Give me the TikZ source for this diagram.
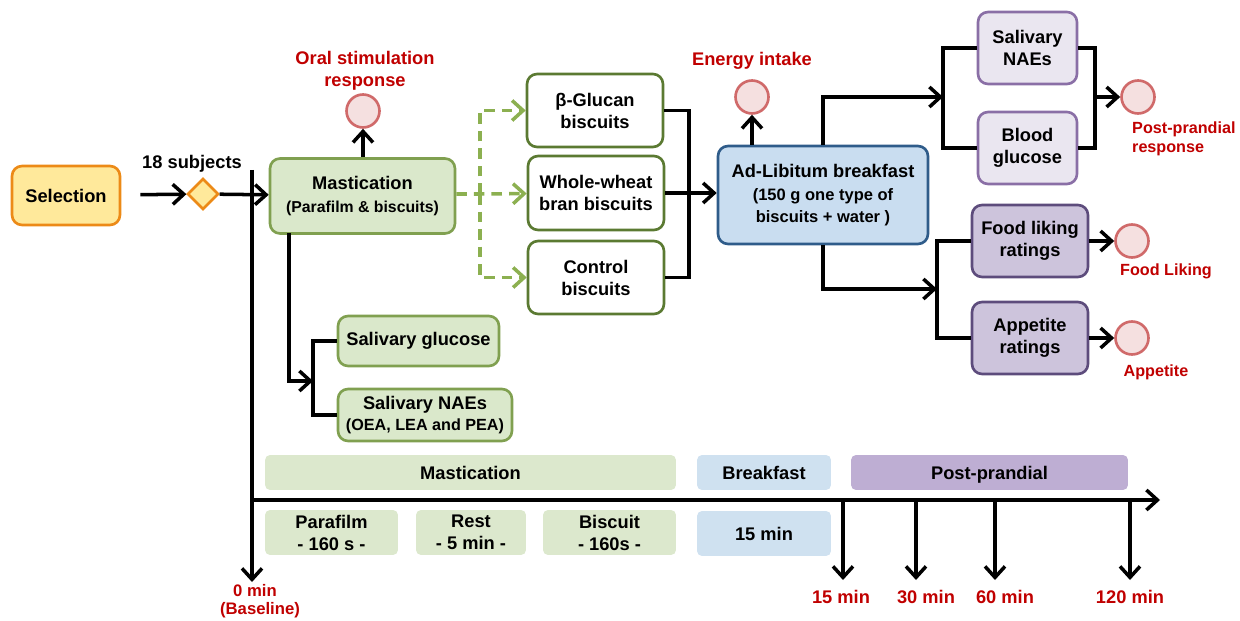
\documentclass[tikz,border=0pt]{standalone}
\usepackage{fontspec}
\setmainfont{Liberation Sans}
\usetikzlibrary{arrows.meta,shapes.geometric}

\definecolor{selfill}{HTML}{FFE99B}
\definecolor{selline}{HTML}{EC8A17}
\definecolor{mastfill}{HTML}{DAE8CB}
\definecolor{mastline}{HTML}{80A050}
\definecolor{dashgreen}{HTML}{8CB050}
\definecolor{biscline}{HTML}{5B7A32}
\definecolor{bfastfill}{HTML}{C9DDF0}
\definecolor{bfastline}{HTML}{2F5C8A}
\definecolor{ppfill}{HTML}{EAE6F0}
\definecolor{ppline}{HTML}{8A6FA6}
\definecolor{ratefill}{HTML}{CDC4DC}
\definecolor{rateline}{HTML}{5D4C7C}
\definecolor{circfill}{HTML}{F5E0E0}
\definecolor{circline}{HTML}{D06A6A}
\definecolor{darkred}{HTML}{C00000}
\definecolor{mastbar}{HTML}{DCE8CD}
\definecolor{bfastbar}{HTML}{CFE1F0}
\definecolor{ppbar}{HTML}{BEAED3}

\tikzset{
  box/.style={draw,rounded corners=0.2cm,line width=1.5pt,align=center,inner sep=0pt},
  resp/.style={circle,draw=circline,fill=circfill,line width=1.5pt,minimum size=0.66cm,inner sep=0pt},
  lab/.style={text=darkred,align=center},
  smalllab/.style={text=darkred,align=left,font=\bfseries\fontsize{9.2}{11}\selectfont},
  bar/.style={rounded corners=0.1cm,inner sep=0pt,align=center},
  onebar/.style={bar,text height=0.95em,text depth=0.12em},
  timelab/.style={text=darkred,align=center},
  conn/.style={line width=2pt},
  dashconn/.style={line width=2pt,draw=dashgreen,dash pattern=on 6pt off 4pt},
}

\begin{document}
\begin{tikzpicture}[x=0.02cm,y=-0.02cm,font=\bfseries\fontsize{10.4}{12.5}\selectfont,
  >={Straight Barb[length=2.2mm,width=4mm]}]
\useasboundingbox (0,0) rectangle (1240,621);

% selection and mastication
\node[box,draw=selline,fill=selfill,minimum width=2.16cm,minimum height=1.18cm] (sel) at (66,195.5) {Selection};
\node[diamond,draw=selline,fill=selfill,line width=1.5pt,minimum size=0.62cm,inner sep=0pt] (split) at (203,194) {};
\node (subj) at (192,164) {18 subjects};
\node[box,draw=mastline,fill=mastfill,minimum width=3.7cm,minimum height=1.5cm] (mast) at (362.5,196)
  {Mastication\\[1pt]\fontsize{9}{11}\selectfont(Parafilm \& biscuits)};
\node[resp] (oral) at (363,111) {};
\node[lab] (oraltxt) at (365,71) {Oral stimulation\\response};

% biscuits
\node[box,draw=biscline,fill=white,minimum width=2.72cm,minimum height=1.46cm] (bglu) at (595,110.5) {β-Glucan\\biscuits};
\node[box,draw=biscline,fill=white,minimum width=2.72cm,minimum height=1.48cm] (bww) at (596,193) {Whole-wheat\\bran biscuits};
\node[box,draw=biscline,fill=white,minimum width=2.72cm,minimum height=1.46cm] (bcon) at (596,277.5) {Control\\biscuits};

% breakfast
\node[box,draw=bfastline,fill=bfastfill,minimum width=4.2cm,minimum height=1.96cm] (adlib) at (823,195)
  {Ad-Libitum breakfast\\[1pt]\fontsize{9.4}{10.5}\selectfont(150 g one type of\\\fontsize{9.4}{10.5}\selectfont biscuits + water )};
\node[resp] (energy) at (752,97) {};
\node[lab] (energytxt) at (752,61) {Energy intake};

% post-prandial measures
\node[box,draw=ppline,fill=ppfill,minimum width=1.98cm,minimum height=1.44cm] (snae) at (1027.5,48) {Salivary\\NAEs};
\node[box,draw=ppline,fill=ppfill,minimum width=1.98cm,minimum height=1.44cm] (bglc) at (1027.5,148) {Blood\\glucose};
\node[resp] (post) at (1138,97) {};
\node[smalllab,anchor=west] (posttxt) at (1126,139) {Post-prandial\\response};
\node[box,draw=rateline,fill=ratefill,minimum width=2.32cm,minimum height=1.44cm] (fl) at (1030,241) {Food liking\\ratings};
\node[box,draw=rateline,fill=ratefill,minimum width=2.32cm,minimum height=1.44cm] (app) at (1030,338) {Appetite\\ratings};
\node[resp] (flc) at (1132,241) {};
\node[resp] (appc) at (1132,338) {};
\node[smalllab] (fltxt) at (1166,271) {Food Liking};
\node[smalllab] (apptxt) at (1156,372) {Appetite};

% salivary samples
\node[box,draw=mastline,fill=mastfill,minimum width=3.22cm,minimum height=1.0cm] (sglu) at (418.5,341) {Salivary glucose};
\node[box,draw=mastline,fill=mastfill,minimum width=3.48cm,minimum height=1.04cm] (snae2) at (425,415)
  {Salivary NAEs\\[-1pt]\fontsize{9.2}{11}\selectfont(OEA, LEA and PEA)};

% junctions
\coordinate (dj) at (480,194);
\coordinate (mj) at (689,193);
\coordinate (uj) at (943,97);
\coordinate (rj) at (1095,97);
\coordinate (lj) at (937,289);
\coordinate (mdown) at (289,233);
\coordinate (sj) at (313,381);

% connectors
\draw[conn,->,shorten <=0.38cm] (sel) -- (split);
\draw[conn,->] (split) -- (mast);
\draw[conn,->] (mast.north -| oral) -- (oral);
\draw[dashconn,->] (mast.east |- dj) -- (dj) -- (bww);
\draw[dashconn,->] (dj) |- (bglu);
\draw[dashconn,->] (dj) |- (bcon);
\draw[conn] (bglu) -| (mj);
\draw[conn] (bcon) -| (mj);
\draw[conn,->] (bww) -- (adlib.west |- bww);
\draw[conn,->] (adlib.north -| energy) -- (energy);
\draw[conn,->] (adlib.north) |- (uj);
\draw[conn] (snae) -| (uj) |- (bglc);
\draw[conn] (snae) -| (rj) |- (bglc);
\draw[conn,->] (rj) -- (post);
\draw[conn,->] (adlib.south) |- (lj);
\draw[conn] (fl) -| (lj) |- (app);
\draw[conn,->] (fl) -- (flc);
\draw[conn,->] (app) -- (appc);
\draw[conn,->] (mdown) |- (sj);
\draw[conn] (sglu) -| (sj) |- (snae2);

% timeline
\node[onebar,fill=mastbar,minimum width=8.22cm,minimum height=0.7cm] (pmast) at (470.5,472.5) {Mastication};
\node[onebar,fill=bfastbar,minimum width=2.68cm,minimum height=0.7cm] (pbfast) at (764,472.5) {Breakfast};
\node[onebar,fill=ppbar,minimum width=5.54cm,minimum height=0.7cm] (ppost) at (989.5,472.5) {Post-prandial};
\node[bar,fill=mastbar,minimum width=2.66cm,minimum height=0.9cm] (para) at (331.5,532.5) {Parafilm\\- 160 s -};
\node[bar,fill=mastbar,minimum width=2.2cm,minimum height=0.9cm] (rest) at (471,532.5) {Rest\\- 5 min -};
\node[bar,fill=mastbar,minimum width=2.66cm,minimum height=0.9cm] (bisc) at (609.5,532.5) {Biscuit\\- 160s -};
\node[onebar,fill=bfastbar,minimum width=2.68cm,minimum height=0.9cm] (fifteen) at (764,533.5) {15 min};

\coordinate (ttop) at (252,170);
\coordinate (tbase) at (252,582);
\coordinate (torig) at (252,500);
\coordinate (tend) at (1160,500);
\draw[conn,->] (ttop) -- (tbase);
\draw[conn,->] (torig) -- (tend);
\node[timelab,font=\bfseries\fontsize{9.5}{11}\selectfont] (zero) at (255,591) {0 min};
\node[timelab,font=\bfseries\fontsize{9.5}{11}\selectfont] (baseline) at (260,610) {(Baseline)};
\foreach \x/\lx/\t in {843/841/15 min,916/926/30 min,995/1005/60 min,1130/1130/120 min}{
  \coordinate (tick\x) at (\x,500);
  \coordinate (tip\x) at (\x,580);
  \draw[conn,->] (tick\x) -- (tip\x);
  \node[timelab] (time\x) at (\lx,597) {\t};
}
\end{tikzpicture}
\end{document}
